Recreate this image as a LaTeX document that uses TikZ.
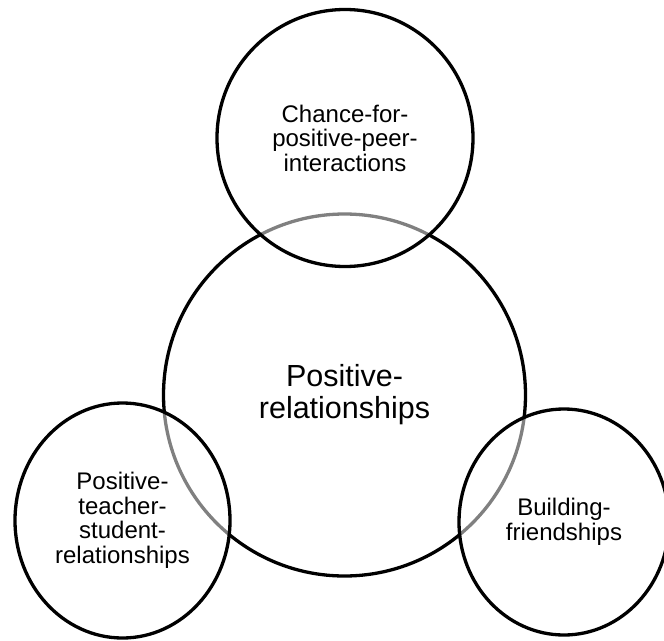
\documentclass[tikz,border=0pt]{standalone}
\usepackage{fontspec}
\setmainfont{Liberation Sans}
\usetikzlibrary{shapes.geometric}
\tikzset{
  hub/.style={circle, draw, line width=3.3pt, fill=white, inner sep=0pt,
    align=center, font=\fontsize{30.5}{32}\selectfont},
  spoke/.style={ellipse, draw, line width=3.3pt, fill=white, fill opacity=0.5,
    text opacity=1, inner sep=0pt, align=center,
    font=\fontsize{24}{24.5}\selectfont},
}
\begin{document}
\begin{tikzpicture}[x=1pt,y=-1pt]
  \useasboundingbox (0,0) rectangle (664,640);
  \clip (0,0) rectangle (664,640);
  % centre
  \node[hub, minimum size=362pt] (rel) at (344.5,395) {Positive-\\relationships};
  % the three around it
  \node[spoke, minimum width=256pt, minimum height=257pt] (peer) at (345,138)
    {Chance-for-\\positive-peer-\\interactions};
  \node[spoke, minimum width=215pt, minimum height=235pt] (teacher) at (122.5,520.5)
    {Positive-\\teacher-\\student-\\relationships};
  \node[spoke, minimum width=210pt, minimum height=226pt] (friends) at (564,522)
    {Building-\\friendships};
\end{tikzpicture}
\end{document}
